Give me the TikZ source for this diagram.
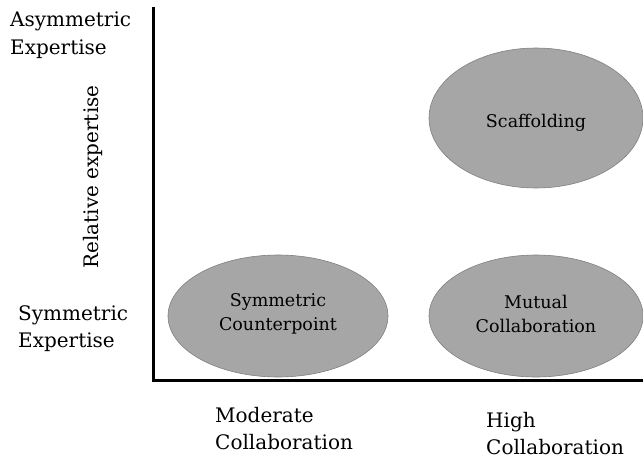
\documentclass[tikz,border=0pt]{standalone}
\usepackage{fontspec}
\setmainfont{DejaVu Serif}
\usetikzlibrary{shapes.geometric}
\begin{document}
\begin{tikzpicture}[x=1pt,y=-1pt,
  blob/.style={fill=black!35, draw=black!50, line width=0.6pt},
  lab/.style={font=\fontsize{20}{27.5}\selectfont, align=left, inner sep=0pt},
  inlab/.style={font=\fontsize{17.5}{24}\selectfont, align=center, inner sep=0pt},
  axis/.style={line width=3pt}]
\useasboundingbox (0,0) rectangle (643,461);
\coordinate (top) at (153,7);
\coordinate (origin) at (153,380);
\coordinate (right) at (643,380);
\draw[axis] (top) -- (origin) -- (right);
\path[blob] (536,118) ellipse [x radius=107, y radius=70];
\path[blob] (278,316) ellipse [x radius=110, y radius=61];
\path[blob] (536,316) ellipse [x radius=107, y radius=61];
\node[inlab] (scaf) at (536,123) {Scaffolding};
\node[inlab] (symc) at (278,314) {Symmetric\\Counterpoint};
\node[inlab] (mutc) at (536,314) {Mutual\\Collaboration};
\node[lab, anchor=north west] (asym) at (10,12) {Asymmetric\\Expertise};
\node[lab, anchor=north west] (symx) at (18,305) {Symmetric\\Expertise};
\node[lab, anchor=north west] (mod) at (215,407) {Moderate\\Collaboration};
\node[lab, anchor=north west] (high) at (486,412) {High\\Collaboration};
\node[lab, rotate=90] (rel) at (93,177) {Relative expertise};
\end{tikzpicture}
\end{document}
